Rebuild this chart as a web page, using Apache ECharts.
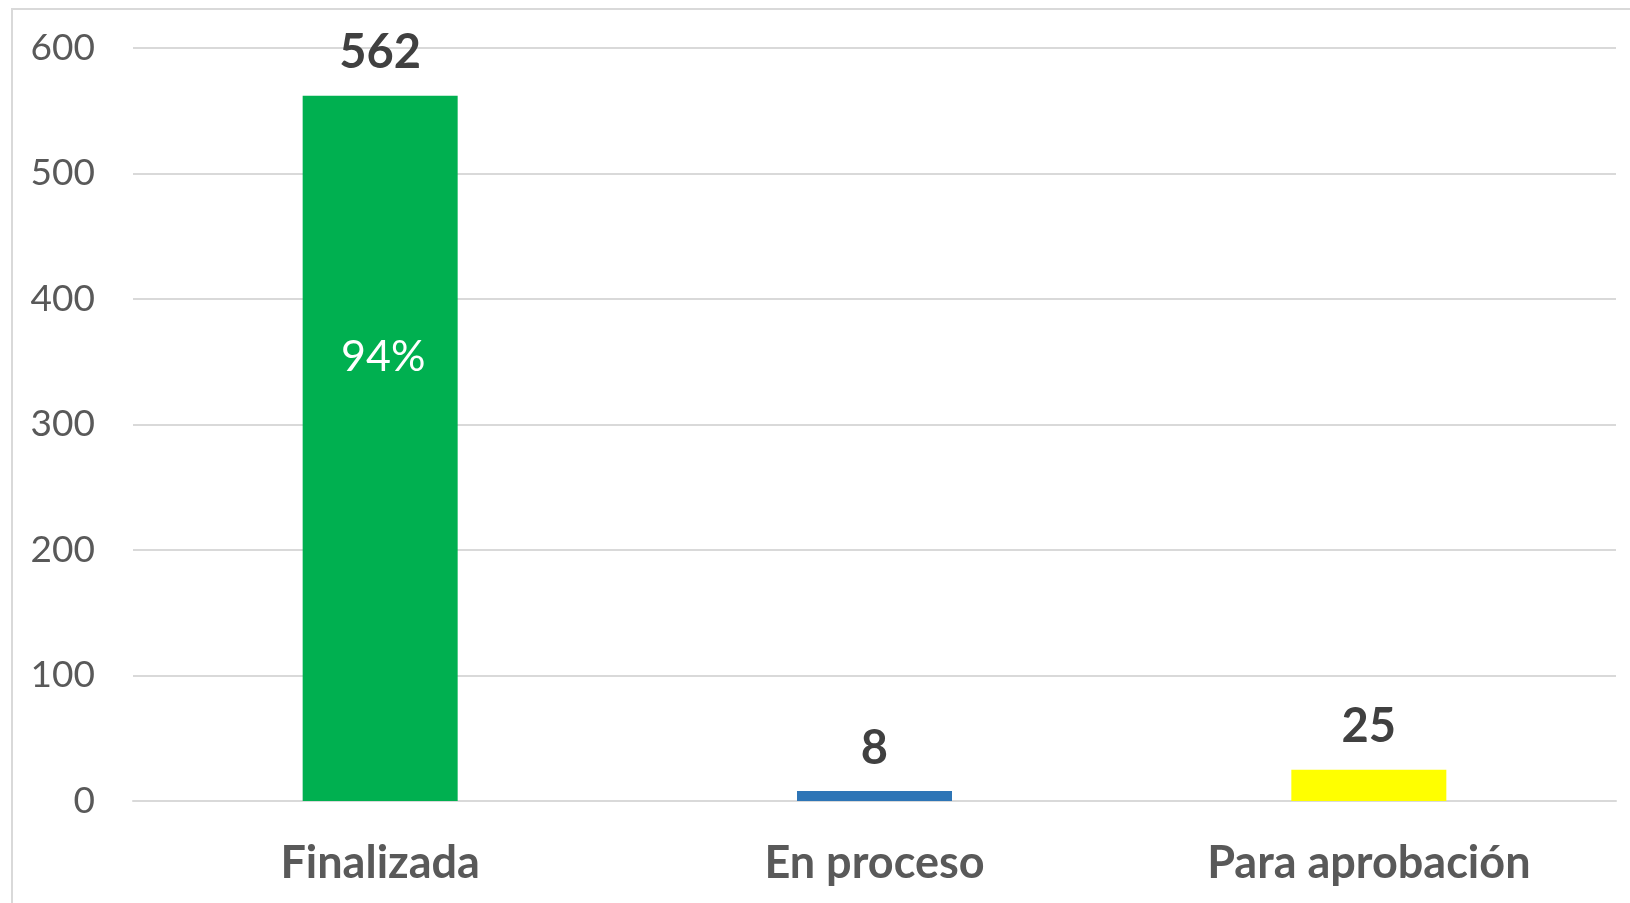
<!DOCTYPE html>
<html>
<head>
<meta charset="utf-8">
<script src="https://cdn.jsdelivr.net/npm/echarts@6/dist/echarts.min.js"></script>
<style>
  html, body { margin: 0; padding: 0; background: #fff; }
  #chart { width: 1630px; height: 903px; }
</style>
</head>
<body>
<div id="chart"></div>
<script>
// estado de las solicitudes
const categories = ['Finalizada', 'En proceso', 'Para aprobación']
const values = [562, 8, 25]
const barColors = ['#00B050', '#2E75B6', '#FFFF00']
const pctLabels = ['94%', '', '']
const yTicks = [0, 100, 200, 300, 400, 500, 600]

const FONT = 'Lato, "Open Sans", sans-serif'

let chart = echarts.init(document.getElementById('chart'))
chart.setOption({
  backgroundColor: '#fff',
  animation: false,
  graphic: [{
    type: 'rect',
    shape: { x: 12, y: 9, width: 1700, height: 1000 },
    style: { fill: 'none', stroke: '#D9D9D9', lineWidth: 2 },
    silent: true
  }],
  grid: { left: 133, right: 14, top: 48, bottom: 102 },
  xAxis: {
    type: 'category',
    data: categories,
    axisLine: { show: true, lineStyle: { color: '#D9D9D9', width: 2 } },
    axisTick: { show: false },
    axisLabel: {
      color: '#595959',
      fontFamily: FONT,
      fontWeight: 'bold',
      fontSize: 45,
      margin: 40
    }
  },
  yAxis: {
    type: 'value',
    min: yTicks[0],
    max: yTicks[yTicks.length - 1],
    interval: 100,
    axisLine: { show: false },
    axisTick: { show: false },
    splitLine: { lineStyle: { color: '#D9D9D9', width: 2 } },
    axisLabel: {
      color: '#595959',
      fontFamily: FONT,
      fontSize: 37,
      margin: 38
    }
  },
  series: [{
    type: 'bar',
    barWidth: 155,
    data: values.map((v, i) => ({ value: v, itemStyle: { color: barColors[i] } })),
    label: {
      show: true,
      position: 'top',
      distance: 19,
      color: '#404040',
      fontFamily: FONT,
      fontWeight: 'bold',
      fontSize: 47
    }
  }, {
    type: 'bar',
    barWidth: 155,
    barGap: '-100%',
    silent: true,
    itemStyle: { color: 'rgba(0,0,0,0)' },
    data: values,
    label: {
      show: true,
      position: ['52%', '37%'],
      align: 'center',
      verticalAlign: 'middle',
      color: '#fff',
      fontFamily: FONT,
      fontSize: 43,
      formatter: p => pctLabels[p.dataIndex]
    }
  }]
})
</script>
</body>
</html>
